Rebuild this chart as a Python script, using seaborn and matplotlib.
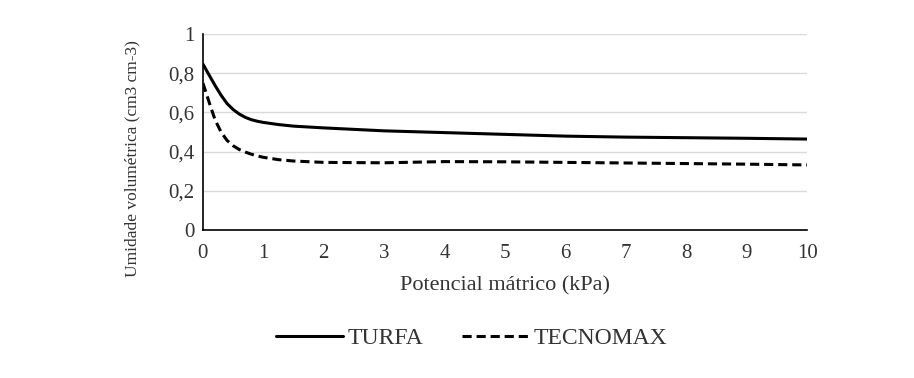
import matplotlib
matplotlib.use("Agg")
import matplotlib.pyplot as plt
import seaborn as sns
import pandas as pd
from matplotlib.ticker import FuncFormatter
from matplotlib.lines import Line2D

potencial = [0, 0.1, 0.2, 0.3, 0.4, 0.5, 0.6, 0.7, 0.8, 0.9, 1, 1.25, 1.5, 2,
             3, 4, 5, 6, 7, 8, 9, 10]
turfa = [0.847, 0.792, 0.738, 0.688, 0.645, 0.615, 0.592, 0.575, 0.563, 0.555, 0.549,
         0.538, 0.530, 0.521, 0.506, 0.497, 0.488, 0.479, 0.474, 0.471, 0.468, 0.464]
tecnomax = [0.75, 0.655, 0.563, 0.50, 0.457, 0.43, 0.411, 0.398, 0.387, 0.378, 0.371,
            0.359, 0.352, 0.345, 0.343, 0.349, 0.348, 0.345, 0.342, 0.339, 0.336, 0.332]
series_names = ["TURFA", "TECNOMAX"]
x_ticks = list(range(0, 11))
y_ticks = [0, 0.2, 0.4, 0.6, 0.8, 1]

df = pd.DataFrame({
    "x": potencial * 2,
    "y": turfa + tecnomax,
    "serie": [series_names[0]] * len(potencial) + [series_names[1]] * len(potencial),
})

sns.set_theme(style="white")
plt.rcParams["font.family"] = ["Liberation Serif", "DejaVu Serif"]

fig = plt.figure(figsize=(9.14, 3.78), dpi=100)
ax = fig.add_axes([0.222, 0.3915, 0.661, 0.5185])

sns.lineplot(data=df, x="x", y="y", hue="serie", style="serie",
             palette={"TURFA": "black", "TECNOMAX": "black"},
             dashes={"TURFA": "", "TECNOMAX": (3, 1.6)},
             linewidth=2.2, ax=ax, legend=False)

ax.set_xlim(0, 10)
ax.set_ylim(0, 1)
ax.set_xticks(x_ticks)
ax.set_yticks(y_ticks)
ax.yaxis.set_major_formatter(FuncFormatter(lambda v, p: ("%g" % v).replace(".", ",")))
ax.grid(axis="y", color="#d9d9d9", linewidth=1)
ax.grid(axis="x", visible=False)
for s in ["top", "right"]:
    ax.spines[s].set_visible(False)
for s in ["left", "bottom"]:
    ax.spines[s].set_color("black")
    ax.spines[s].set_linewidth(1.2)
ax.tick_params(axis="both", length=0, labelsize=15, colors="#333333")
ax.tick_params(axis="x", pad=10)
ax.tick_params(axis="y", pad=6)

ax.set_xlabel("Potencial mátrico (kPa)", fontsize=16, color="#333333", labelpad=9.5)
ax.set_ylabel("Umidade volumétrica (cm3 cm-3)", fontsize=12.5, color="#333333")
ax.yaxis.set_label_coords(-0.104, 0.367)

handles = [Line2D([], [], color="black", linewidth=2.2),
           Line2D([], [], color="black", linewidth=2.2, dashes=(3, 1.6))]
fig.legend(handles, series_names, loc="center", bbox_to_anchor=(0.516, 0.105), ncol=2,
           frameon=False, fontsize=17, handlelength=2.85, handletextpad=0.2,
           columnspacing=1.6, labelcolor="#333333")

fig.savefig("out.png", dpi=100, facecolor="white")
